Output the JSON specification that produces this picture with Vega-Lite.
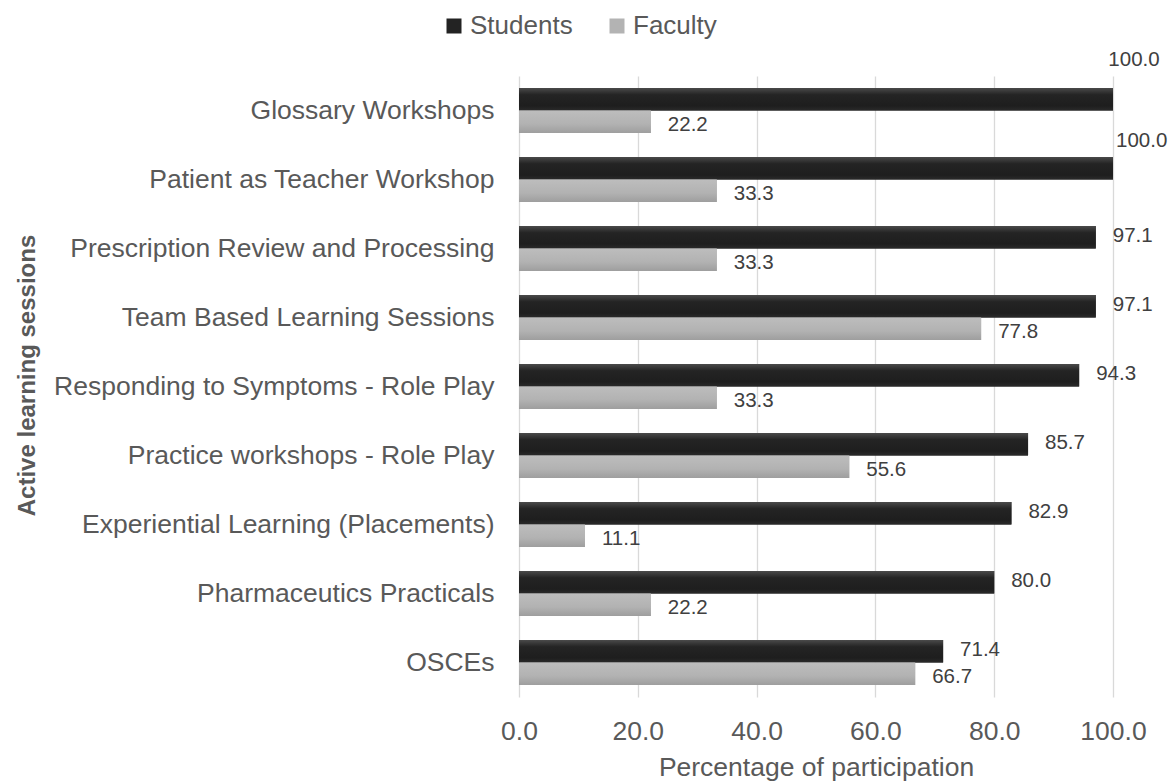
{
  "$schema": "https://vega.github.io/schema/vega-lite/v6.json",
  "autosize": {"type": "none"},
  "width": 594,
  "height": 621,
  "padding": {"left": 519, "top": 76, "right": 63, "bottom": 86},
  "background": "white",
  "config": {
    "font": "Liberation Sans",
    "view": {"stroke": null}
  },
  "data": {
    "values": [
      {"Session": "Glossary Workshops", "Series": "Students", "Value": 100.0},
      {"Session": "Glossary Workshops", "Series": "Faculty", "Value": 22.2},
      {"Session": "Patient as Teacher Workshop", "Series": "Students", "Value": 100.0},
      {"Session": "Patient as Teacher Workshop", "Series": "Faculty", "Value": 33.3},
      {"Session": "Prescription Review and Processing", "Series": "Students", "Value": 97.1},
      {"Session": "Prescription Review and Processing", "Series": "Faculty", "Value": 33.3},
      {"Session": "Team Based Learning Sessions", "Series": "Students", "Value": 97.1},
      {"Session": "Team Based Learning Sessions", "Series": "Faculty", "Value": 77.8},
      {"Session": "Responding to Symptoms - Role Play", "Series": "Students", "Value": 94.3},
      {"Session": "Responding to Symptoms - Role Play", "Series": "Faculty", "Value": 33.3},
      {"Session": "Practice workshops - Role Play", "Series": "Students", "Value": 85.7},
      {"Session": "Practice workshops - Role Play", "Series": "Faculty", "Value": 55.6},
      {"Session": "Experiential Learning (Placements)", "Series": "Students", "Value": 82.9},
      {"Session": "Experiential Learning (Placements)", "Series": "Faculty", "Value": 11.1},
      {"Session": "Pharmaceutics Practicals", "Series": "Students", "Value": 80.0},
      {"Session": "Pharmaceutics Practicals", "Series": "Faculty", "Value": 22.2},
      {"Session": "OSCEs", "Series": "Students", "Value": 71.4},
      {"Session": "OSCEs", "Series": "Faculty", "Value": 66.7}
    ]
  },
  "encoding": {
    "y": {
      "field": "Session",
      "type": "nominal",
      "sort": null,
      "scale": {"paddingInner": 0.348, "paddingOuter": 0.174},
      "axis": {
        "title": "Active learning sessions",
        "titleFontSize": 24,
        "titleFontWeight": "bold",
        "titleColor": "#595959",
        "titleX": -492,
        "titleY": 299,
        "titleAngle": -90,
        "titleAlign": "center",
        "titleBaseline": "middle",
        "labelFontSize": 26.5,
        "labelColor": "#595959",
        "labelPadding": 25,
        "labelLimit": 700,
        "ticks": false,
        "domain": false
      }
    },
    "yOffset": {
      "field": "Series",
      "type": "nominal",
      "sort": ["Students", "Faculty"],
      "scale": {"paddingInner": 0, "paddingOuter": 0}
    },
    "x": {
      "field": "Value",
      "type": "quantitative",
      "scale": {"domain": [0, 100], "nice": false},
      "axis": {
        "title": "Percentage of participation",
        "titleFontSize": 26.5,
        "titleFontWeight": "normal",
        "titleColor": "#595959",
        "titlePadding": 10,
        "labelFontSize": 26.5,
        "labelColor": "#595959",
        "labelPadding": 21,
        "labelFlush": false,
        "values": [0, 20, 40, 60, 80, 100],
        "format": ".1f",
        "ticks": false,
        "domain": false,
        "grid": true,
        "gridColor": "#d9d9d9",
        "gridWidth": 1.3
      }
    }
  },
  "layer": [
    {
      "mark": {"type": "bar"},
      "encoding": {
        "color": {
          "field": "Series",
          "type": "nominal",
          "sort": ["Students", "Faculty"],
          "scale": {"domain": ["Students", "Faculty"], "range": ["#232323", "#b3b3b3"]},
          "legend": {
            "title": null,
            "orient": "none",
            "direction": "horizontal",
            "legendX": -78,
            "legendY": -63,
            "symbolType": "square",
            "symbolSize": 225,
            "symbolStrokeWidth": 0,
            "labelFontSize": 26,
            "labelColor": "#595959",
            "labelOffset": 3,
            "columnPadding": 31
          }
        }
      }
    },
    {
      "transform": [{"filter": "datum.Series === 'Students'"}],
      "mark": {
        "type": "bar",
        "color": {
          "gradient": "linear", "x1": 0, "y1": 0, "x2": 0, "y2": 1,
          "stops": [
            {"offset": 0, "color": "#4a4a4a"},
            {"offset": 0.3, "color": "#242424"},
            {"offset": 0.8, "color": "#1e1e1e"},
            {"offset": 1, "color": "#2a2a2a"}
          ]
        }
      }
    },
    {
      "transform": [{"filter": "datum.Series === 'Faculty'"}],
      "mark": {
        "type": "bar",
        "color": {
          "gradient": "linear", "x1": 0, "y1": 0, "x2": 0, "y2": 1,
          "stops": [
            {"offset": 0, "color": "#bdbdbd"},
            {"offset": 0.6, "color": "#b2b2b2"},
            {"offset": 1, "color": "#9e9e9e"}
          ]
        }
      }
    },
    {
      "transform": [{"filter": "datum.Series === 'Students' && datum.Value < 100"}],
      "mark": {"type": "text", "align": "left", "baseline": "middle", "dx": 17, "dy": -1, "fontSize": 20.5, "color": "#404040"},
      "encoding": {"text": {"field": "Value", "type": "quantitative", "format": ".1f"}}
    },
    {
      "transform": [{"filter": "datum.Series === 'Faculty'"}],
      "mark": {"type": "text", "align": "left", "baseline": "middle", "dx": 17, "dy": 3, "fontSize": 20.5, "color": "#404040"},
      "encoding": {"text": {"field": "Value", "type": "quantitative", "format": ".1f"}}
    },
    {
      "transform": [{"filter": "datum.Series === 'Students' && datum.Session === 'Glossary Workshops'"}],
      "mark": {"type": "text", "align": "center", "baseline": "middle", "dx": 21, "dy": -39, "fontSize": 20.5, "color": "#404040"},
      "encoding": {"text": {"field": "Value", "type": "quantitative", "format": ".1f"}}
    },
    {
      "transform": [{"filter": "datum.Series === 'Students' && datum.Session === 'Patient as Teacher Workshop'"}],
      "mark": {"type": "text", "align": "left", "baseline": "middle", "dx": 3, "dy": -27, "fontSize": 20.5, "color": "#404040"},
      "encoding": {"text": {"field": "Value", "type": "quantitative", "format": ".1f"}}
    }
  ]
}
